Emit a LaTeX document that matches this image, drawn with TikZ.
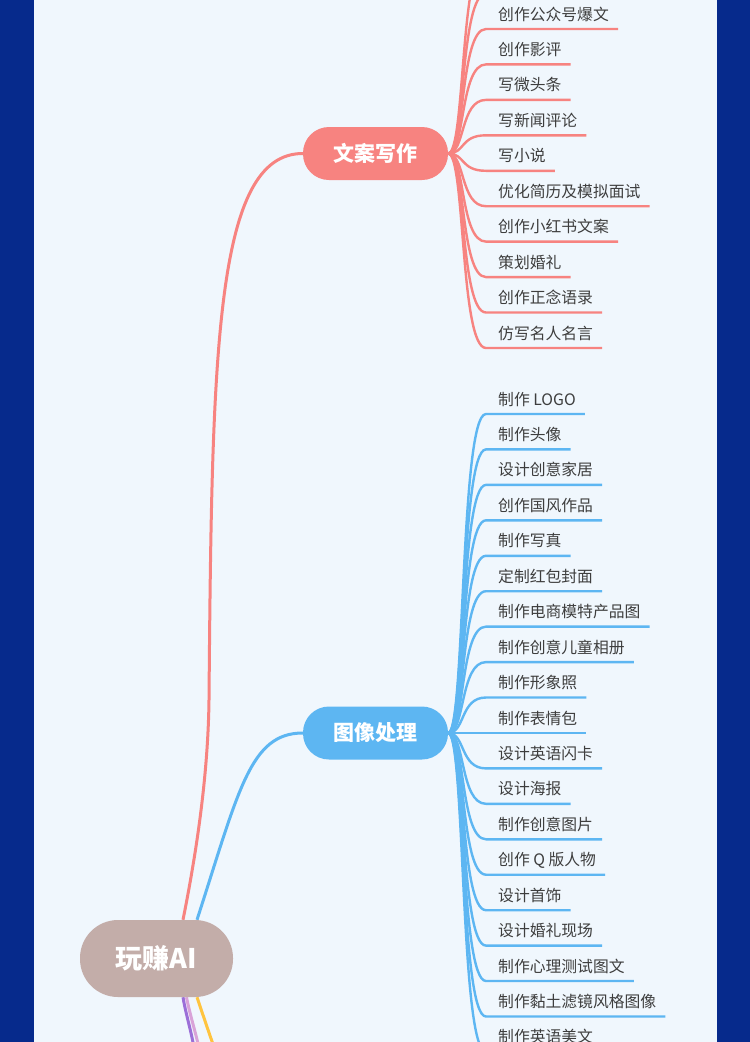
\documentclass[tikz,border=0pt]{standalone}
\usepackage{fontspec}
\setmainfont{Noto Sans CJK SC}
\definecolor{frame}{HTML}{062A8C}
\definecolor{paper}{HTML}{F0F7FD}
\definecolor{cRed}{HTML}{F78380}
\definecolor{cBlue}{HTML}{5DB6F2}
\definecolor{cRoot}{HTML}{C3ADA9}
\definecolor{cText}{HTML}{3E3E3E}
\definecolor{cPurple}{HTML}{9C6FD8}
\definecolor{cPink}{HTML}{D9A3D8}
\definecolor{cYellow}{HTML}{FFC43F}
\pgfdeclarelayer{bg}
\pgfsetlayers{bg,main}
\newcommand\leafitem[5]{%
  \node[leaftext] (#1) at (498,#3-9) {#4};
  \begin{pgfonlayer}{bg}
    \draw[#5] (#2.east) .. controls +(17,0) and (460,#3) .. (486,#3) -- (#1.base east |- 0,#3) -- ++(9,0);
  \end{pgfonlayer}
}
\begin{document}
\begin{tikzpicture}[x=1pt,y=-1pt,
  leaftext/.style={inner sep=0pt, text=cText, font=\fontsize{15.8}{18}\selectfont, anchor=base west},
  topic/.style={fill=#1, text=white, font=\fontsize{21}{24}\selectfont\bfseries, minimum width=145pt, minimum height=53pt, rounded corners=26pt, inner sep=0pt},
  rootnode/.style={fill=cRoot, text=white, font=\fontsize{27}{30}\selectfont\bfseries, minimum width=153pt, minimum height=77pt, rounded corners=38pt, inner sep=0pt},
  redline/.style={draw=cRed, line width=2.4pt},
  blueline/.style={draw=cBlue, line width=2.4pt},
  trunk/.style={line width=3pt}]
\useasboundingbox (0,0) rectangle (750,1042);
\begin{pgfonlayer}{bg}
  \fill[frame] (0,0) rectangle (750,1042);
  \fill[paper] (34,0) rectangle (717,1042);
\end{pgfonlayer}

\node[rootnode] (root) at (156.5,958.5) {玩赚AI};
\node[topic=cRed] (wa) at (375.5,153.5) {文案写作};
\node[topic=cBlue] (tx) at (375.5,733) {图像处理};

\coordinate (pEnd) at (194,1048);
\coordinate (kEnd) at (199,1048);
\coordinate (yEnd) at (215,1050);
\coordinate (rTop1) at (486,-41.9);
\coordinate (rTop2) at (486,-6.4);

\begin{pgfonlayer}{bg}
  \draw[trunk, cRed] ([xshift=26.5pt]root.north) .. controls +(12,-60) and (208,780) .. (209,700) .. controls (212,350) and (215,153.5) .. (wa.west);
  \draw[trunk, cBlue] ([xshift=40.5pt]root.north) .. controls (239,790) and (250,733) .. (tx.west);
  \draw[trunk, cPurple] ([xshift=26.5pt]root.south) .. controls (186,1015) and (191,1030) .. (pEnd);
  \draw[trunk, cPink] ([xshift=30pt]root.south) .. controls (190,1015) and (195,1030) .. (kEnd);
  \draw[trunk, cYellow] ([xshift=40.5pt]root.south) .. controls (202,1012) and (208,1030) .. (yEnd);
  \draw[redline] (wa.east) .. controls +(17,0) and (460,-41.9) .. (rTop1) -- ++(120,0);
  \draw[redline] (wa.east) .. controls +(17,0) and (460,-6.4) .. (rTop2) -- ++(120,0);
\end{pgfonlayer}

\leafitem{r1}{wa}{29}{创作公众号爆文}{redline}
\leafitem{r2}{wa}{64.4}{创作影评}{redline}
\leafitem{r3}{wa}{99.9}{写微头条}{redline}
\leafitem{r4}{wa}{135.3}{写新闻评论}{redline}
\leafitem{r5}{wa}{170.8}{写小说}{redline}
\leafitem{r6}{wa}{206.2}{优化简历及模拟面试}{redline}
\leafitem{r7}{wa}{241.6}{创作小红书文案}{redline}
\leafitem{r8}{wa}{277.1}{策划婚礼}{redline}
\leafitem{r9}{wa}{312.5}{创作正念语录}{redline}
\leafitem{r10}{wa}{348}{仿写名人名言}{redline}

\leafitem{b1}{tx}{414}{制作 LOGO}{blueline}
\leafitem{b2}{tx}{449.4}{制作头像}{blueline}
\leafitem{b3}{tx}{484.9}{设计创意家居}{blueline}
\leafitem{b4}{tx}{520.3}{创作国风作品}{blueline}
\leafitem{b5}{tx}{555.8}{制作写真}{blueline}
\leafitem{b6}{tx}{591.2}{定制红包封面}{blueline}
\leafitem{b7}{tx}{626.6}{制作电商模特产品图}{blueline}
\leafitem{b8}{tx}{662.1}{制作创意儿童相册}{blueline}
\leafitem{b9}{tx}{697.5}{制作形象照}{blueline}
\leafitem{b10}{tx}{733}{制作表情包}{blueline}
\leafitem{b11}{tx}{768.4}{设计英语闪卡}{blueline}
\leafitem{b12}{tx}{803.8}{设计海报}{blueline}
\leafitem{b13}{tx}{839.3}{制作创意图片}{blueline}
\leafitem{b14}{tx}{874.7}{创作 Q 版人物}{blueline}
\leafitem{b15}{tx}{910.2}{设计首饰}{blueline}
\leafitem{b16}{tx}{945.6}{设计婚礼现场}{blueline}
\leafitem{b17}{tx}{981}{制作心理测试图文}{blueline}
\leafitem{b18}{tx}{1016.5}{制作黏土滤镜风格图像}{blueline}
\leafitem{b19}{tx}{1051.9}{制作英语美文}{blueline}
\end{tikzpicture}
\end{document}
